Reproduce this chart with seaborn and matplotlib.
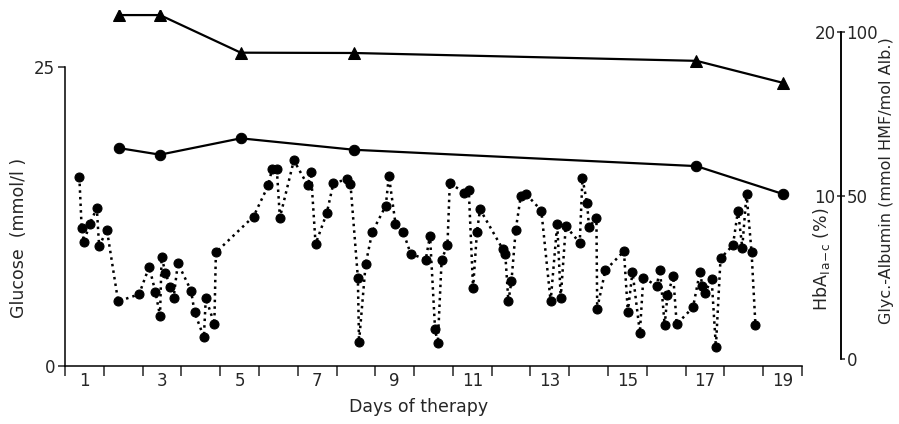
import matplotlib
matplotlib.use("Agg")
import matplotlib.pyplot as plt
import seaborn as sns

# blood glucose, day fraction since start of therapy (day 1 = 0..1)
glucose_days = [0.37, 0.43, 0.49, 0.64, 0.82, 0.88, 1.08, 1.37, 1.91, 2.17,
                2.33, 2.45, 2.49, 2.59, 2.71, 2.80, 2.91, 3.25, 3.34, 3.58,
                3.63, 3.85, 3.89, 4.86, 5.24, 5.34, 5.46, 5.54, 5.90, 6.26,
                6.34, 6.46, 6.75, 6.92, 7.26, 7.36, 7.55, 7.58, 7.75, 7.92,
                8.27, 8.35, 8.52, 8.72, 8.91, 9.30, 9.41, 9.54, 9.61, 9.71,
                9.86, 9.92, 10.29, 10.41, 10.52, 10.62, 10.70, 11.28, 11.35, 11.43,
                11.51, 11.62, 11.75, 11.88, 12.28, 12.52, 12.69, 12.78, 12.91, 13.27,
                13.34, 13.46, 13.51, 13.70, 13.72, 13.93, 14.41, 14.51, 14.63, 14.82,
                14.91, 15.25, 15.34, 15.46, 15.53, 15.68, 15.77, 16.19, 16.37, 16.43,
                16.50, 16.67, 16.78, 16.90, 17.22, 17.35, 17.46, 17.57, 17.70, 17.80]
glucose = [15.8, 11.5, 10.4, 11.9, 13.2, 10.0, 11.4, 5.4, 6.0, 8.3,
           6.2, 4.2, 9.1, 7.8, 6.6, 5.7, 8.6, 6.3, 4.5, 2.4,
           5.7, 3.5, 9.5, 12.5, 15.1, 16.5, 16.5, 12.4, 17.2, 15.1,
           16.2, 10.2, 12.8, 15.3, 15.6, 15.2, 7.4, 2.0, 8.5, 11.2,
           13.4, 15.9, 11.9, 11.2, 9.4, 8.9, 10.9, 3.1, 1.9, 8.9,
           10.1, 15.3, 14.5, 14.7, 6.5, 11.2, 13.1, 9.8, 9.4, 5.4,
           7.1, 11.4, 14.2, 14.4, 13.0, 5.4, 11.9, 5.7, 11.7, 10.3,
           15.7, 13.6, 11.6, 12.4, 4.8, 8.0, 9.6, 4.5, 7.9, 2.8,
           7.4, 6.7, 8.0, 3.4, 5.9, 7.5, 3.5, 4.9, 7.9, 6.7,
           6.1, 7.3, 1.6, 9.0, 10.1, 13.0, 9.9, 14.4, 9.5, 3.4]

# weekly measurements
lab_days = [1.40, 2.45, 4.53, 7.45, 16.28, 18.50]
glyc_albumin = [105.2, 105.2, 93.7, 93.6, 91.2, 84.5]   # mmol HMF/mol Alb
hba1 = [12.9, 12.5, 13.5, 12.8, 11.8, 10.1]              # %

day_labels = ["1", "3", "5", "7", "9", "11", "13", "15", "17", "19"]

sns.set_style("white")
plt.rcParams["font.family"] = ["DejaVu Sans"]

fig = plt.figure(figsize=(8.99, 4.24), dpi=100)
ax = fig.add_axes([0.0723, 0.1368, 0.8198, 0.8396])
ax2 = ax.twinx()
ax3 = ax.twinx()

sns.lineplot(x=glucose_days, y=glucose, ax=ax, sort=False, estimator=None,
             color="black", linestyle=":", linewidth=1.8,
             marker="o", markersize=6.5, markeredgecolor="black")
sns.lineplot(x=lab_days, y=hba1, ax=ax2, sort=False, estimator=None,
             color="black", linewidth=1.6,
             marker="o", markersize=7.5, markeredgecolor="black")
sns.lineplot(x=lab_days, y=glyc_albumin, ax=ax3, sort=False, estimator=None,
             color="black", linewidth=1.6,
             marker="^", markersize=8.5, markeredgecolor="black")

# glucose axis
ax.set_xlim(0, 19)
ax.set_ylim(0, 29.77)
ax.spines["top"].set_visible(False)
ax.spines["right"].set_visible(False)
ax.spines["left"].set_bounds(0, 25)
for s in ["left", "bottom"]:
    ax.spines[s].set_color("black")
    ax.spines[s].set_linewidth(1.1)
ax.set_yticks([0, 25])
ax.set_yticklabels(["0", "25"])
ax.tick_params(axis="y", direction="out", length=5, width=1.1, pad=2,
               labelsize=12, left=True)
ax.set_xticks([d - 0.5 for d in range(1, 20, 2)])
ax.set_xticklabels(day_labels)
ax.set_xticks(range(0, 20), minor=True)
ax.tick_params(axis="x", which="major", length=0, pad=4, labelsize=12)
ax.tick_params(axis="x", which="minor", direction="out", length=7.5,
               width=1.1, bottom=True)
ax.set_xlabel("Days of therapy", fontsize=12.5)
ax.xaxis.set_label_coords(0.48, -0.09)
ax.set_ylabel("Glucose  (mmol/l )", fontsize=12.5)
ax.yaxis.set_label_coords(-0.05, 0.36)

# HbA1 axis (labels on left side of the shared right spine)
ax2.set_ylim(-0.428, 21.35)
for s in ["top", "right", "bottom"]:
    ax2.spines[s].set_visible(False)
ax2.spines["left"].set_visible(True)
ax2.spines["left"].set_position(("axes", 1.0529))
ax2.spines["left"].set_bounds(0, 20)
ax2.spines["left"].set_color("black")
ax2.spines["left"].set_linewidth(1.1)
ax2.yaxis.tick_left()
ax2.yaxis.set_label_position("left")
ax2.set_yticks([10, 20])
ax2.set_yticklabels(["10", "20"])
ax2.tick_params(axis="y", direction="out", length=3, width=1.1, pad=1,
                labelsize=12, left=True)
ax2.set_ylabel("HbA$_{\\mathrm{I\\,a\\!-\\!c}}$ (%)", fontsize=12.5)
ax2.yaxis.set_label_coords(1.041, 0.30)

# glycated albumin axis
ax3.set_ylim(-2.14, 106.75)
for s in ["top", "left", "bottom"]:
    ax3.spines[s].set_visible(False)
ax3.spines["right"].set_position(("axes", 1.0529))
ax3.spines["right"].set_bounds(0, 100)
ax3.spines["right"].set_color("black")
ax3.spines["right"].set_linewidth(1.1)
ax3.set_yticks([0, 50, 100])
ax3.set_yticklabels(["0", "50", "100"])
ax3.tick_params(axis="y", direction="out", length=3, width=1.1, pad=1,
                labelsize=12, right=True)
ax3.set_ylabel("Glyc.-Albumin (mmol HMF/mol Alb.)", fontsize=11.5)
ax3.yaxis.set_label_coords(1.104, 0.52)

for a in (ax, ax2, ax3):
    a.grid(False)

fig.savefig("out.png", dpi=100)
